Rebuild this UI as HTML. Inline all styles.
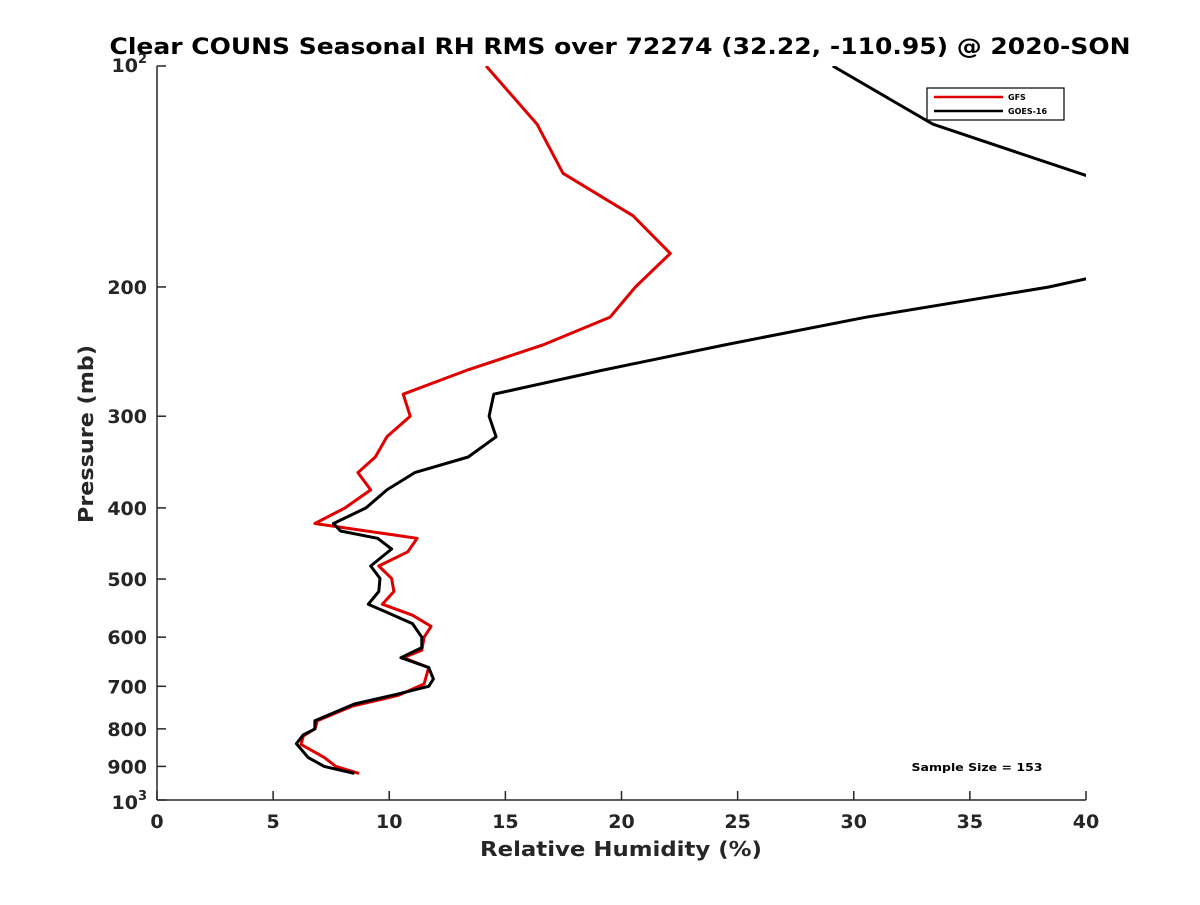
<!DOCTYPE html>
<html><head><meta charset="utf-8"><style>
body{margin:0;background:#fff;}
svg{font-family:"DejaVu Sans","Liberation Sans",sans-serif;}
</style></head><body>
<svg width="1200" height="900" viewBox="0 0 1200 900">
<defs><clipPath id="pa"><rect x="157" y="66" width="929" height="734"/></clipPath></defs>
<rect width="1200" height="900" fill="#fff"/>
<text x="620" y="54" text-anchor="middle" font-size="22" font-weight="bold" textLength="1021" lengthAdjust="spacingAndGlyphs">Clear COUNS Seasonal RH RMS over 72274 (32.22, -110.95) @ 2020-SON</text>
<g id="axes"></g>
<g id="series" clip-path="url(#pa)"></g>
<g>
<rect x="927" y="88" width="137" height="32" fill="#fff" stroke="#000" stroke-width="1.2"/>
<line x1="934" y1="97" x2="1003" y2="97" stroke="#e00000" stroke-width="2.5"/>
<text x="1008" y="100" font-size="8" font-weight="bold">GFS</text>
<line x1="934" y1="111" x2="1003" y2="111" stroke="#000" stroke-width="2.5"/>
<text x="1008" y="114" font-size="8" font-weight="bold">GOES-16</text>
</g>
<text x="977" y="771" text-anchor="middle" font-size="11" font-weight="bold" textLength="131" lengthAdjust="spacingAndGlyphs">Sample Size = 153</text>
<text x="621" y="856" text-anchor="middle" font-size="20" font-weight="bold" textLength="282" lengthAdjust="spacingAndGlyphs" fill="#262626">Relative Humidity (%)</text>
<text transform="translate(93,434) rotate(-90)" text-anchor="middle" font-size="20" font-weight="bold" textLength="178" lengthAdjust="spacingAndGlyphs" fill="#262626">Pressure (mb)</text>
</svg>
<script>
const xTicks=[0,5,10,15,20,25,30,35,40];
const yTicks=[100,200,300,400,500,600,700,800,900,1000];
const gfsRH=[14.17,16.36,17.48,20.5,22.1,20.6,19.5,16.6,13.3,10.6,10.9,9.9,9.4,8.65,9.2,8.1,6.8,11.2,10.8,9.55,10.1,10.2,9.7,11.0,11.8,11.5,11.4,10.6,11.7,11.5,10.4,8.4,6.9,6.8,6.3,6.2,7.2,7.7,8.7];
const gfsP=[100,120,140,160,180,200,220,240,260,280,300,320,341,358,378,400,420,440,459,480,499,520,541,560,580,600,625,640,660,695,720,745,780,800,818,840,875,900,920];
const goesRH=[29.1,33.4,40.0,48,45,40.0,38.4,30.5,24.4,19.1,14.5,14.3,14.6,13.4,11.1,9.9,9.0,7.6,7.9,9.5,10.1,9.2,9.6,9.55,9.1,11.0,11.4,11.4,10.5,11.7,11.9,11.7,10.3,8.5,6.8,6.8,6.3,6.0,6.5,7.2,8.5];
const goesP=[100,120,141,160,180,195,200,220,240,260,280,300,320,341,358,378,400,420,430,440,455,480,499,520,541,575,600,620,640,660,684,700,718,740,780,800,815,838,875,900,920];
const X0=157,X1=1086,Y0=66,Y1=800;
const sx=v=>X0+(v-0)/40*(X1-X0);
const sy=p=>Y0+(Math.log10(p)-2)*(Y1-Y0);
const NS="http://www.w3.org/2000/svg";
function mk(t,a,parent){const e=document.createElementNS(NS,t);for(const k in a)e.setAttribute(k,a[k]);parent.appendChild(e);return e;}
const ax=document.getElementById('axes');
const xl=mk('line',{x1:X0,y1:Y1,x2:X1,y2:Y1,stroke:'#262626','stroke-width':1.5},ax);


const yl=mk('line',{x1:X0,y1:Y0,x2:X0,y2:Y1,stroke:'#262626','stroke-width':1.5},ax);


xTicks.forEach(v=>{
  const t=mk('line',{x1:sx(v),y1:Y1,x2:sx(v),y2:Y1-9,stroke:'#262626','stroke-width':1.5},ax);
  
  
  const l=mk('text',{x:sx(v),y:Y1+28,'text-anchor':'middle','font-size':19,'font-weight':'bold',fill:'#262626'},ax);
  l.textContent=v;
  
  
});
yTicks.forEach(p=>{
  const t=mk('line',{x1:X0,y1:sy(p),x2:X0+9,y2:sy(p),stroke:'#262626','stroke-width':1.5},ax);
  
  
  const l=mk('text',{x:X0-10,y:sy(p)+7,'text-anchor':'end','font-size':19,'font-weight':'bold',fill:'#262626'},ax);
  if(p===100||p===1000){
    l.setAttribute('y',sy(p)+(p===100?6:9));
    l.textContent='10';
    const s=mk('tspan',{dy:-9,'font-size':13},l);
    s.textContent=p===100?'2':'3';
    l.setAttribute('x',X0-10);
  } else l.textContent=p;
  
  
});
const sg=document.getElementById('series');
function line(rh,p,color,name){
  const d=rh.map((v,i)=>(i?'L':'M')+sx(v).toFixed(1)+','+sy(p[i]).toFixed(1)).join('');
  const e=mk('path',{d:d,fill:'none',stroke:color,'stroke-width':3,'stroke-linejoin':'round'},sg);
  
  
}
line(gfsRH,gfsP,'#e00000','gfs-line');
line(goesRH,goesP,'#000','goes16-line');
</script>
</body></html>
